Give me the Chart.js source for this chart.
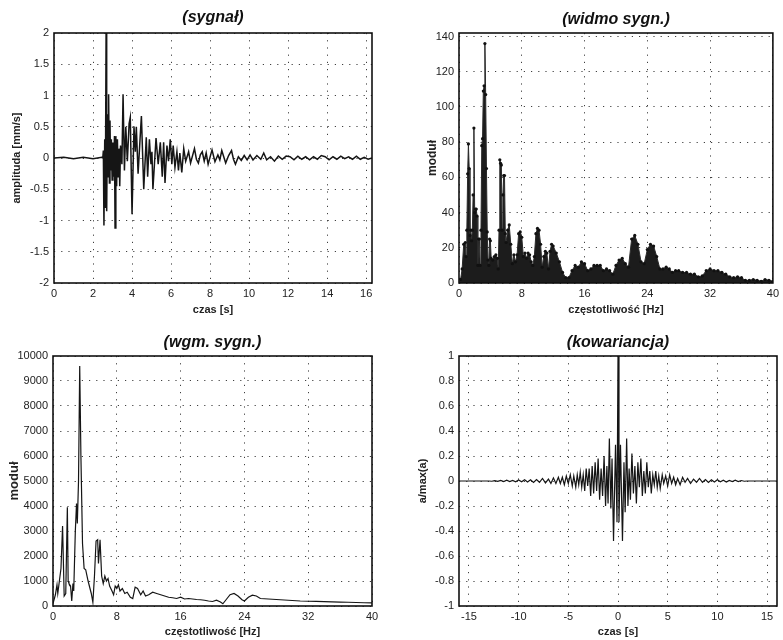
<!DOCTYPE html>
<html>
<head>
<meta charset="utf-8">
<script src="https://cdn.jsdelivr.net/npm/chart.js@4.4.1/dist/chart.umd.min.js"></script>
<style>
  body { margin: 0; background: #fff; }
  #wrap { position: relative; width: 783px; height: 640px; }
  canvas { position: absolute; }
</style>
</head>
<body>
<div id="wrap">
  <canvas id="c1" width="391" height="320" style="left:0;top:0"></canvas>
  <canvas id="c2" width="392" height="320" style="left:391px;top:0"></canvas>
  <canvas id="c3" width="391" height="320" style="left:0;top:320px"></canvas>
  <canvas id="c4" width="392" height="320" style="left:391px;top:320px"></canvas>
</div>
<script>
// (sygnał) - time signal
const sigTime = [0, 0.5, 1.0, 1.5, 2.0, 2.45, 2.5, 2.53, 2.56, 2.6,
  2.63, 2.67, 2.7, 2.74, 2.77, 2.8, 2.84, 2.87, 2.9, 2.94,
  2.98, 3.02, 3.06, 3.1, 3.13, 3.17, 3.21, 3.25, 3.29, 3.33,
  3.37, 3.41, 3.45, 3.48, 3.54, 3.61, 3.68, 3.76, 3.85, 3.91,
  4.0, 4.1, 4.17, 4.22, 4.31, 4.41, 4.48, 4.6, 4.73, 4.8,
  4.89, 4.97, 5.02, 5.07, 5.23, 5.34, 5.45, 5.55, 5.62, 5.69,
  5.79, 5.87, 5.96, 6.04, 6.11, 6.2, 6.3, 6.38, 6.45, 6.55,
  6.65, 6.75, 6.9, 7.0, 7.2, 7.3, 7.4, 7.5, 7.6, 7.7,
  7.8, 7.9, 8.1, 8.25, 8.4, 8.5, 8.6, 8.8, 8.95, 9.1,
  9.2, 9.3, 9.45, 9.6, 9.75, 9.9, 10.05, 10.2, 10.4, 10.6,
  10.75, 10.9, 11.1, 11.3, 11.5, 11.7, 11.9, 12.1, 12.3, 12.5,
  12.7, 12.9, 13.1, 13.3, 13.5, 13.7, 13.9, 14.1, 14.3, 14.5,
  14.7, 14.9, 15.1, 15.3, 15.5, 15.7, 15.9, 16.1, 16.3];
const sigAmp = [0, 0.01, -0.01, 0.01, -0.01, 0.01, 0, 0.12, -1.08, 0.3,
  -0.8, 2.0, -0.85, 0.7, -0.3, 1.02, -0.4, 0.6, -0.2, 0.3,
  -0.35, 0.25, -0.3, 0.35, -1.12, 0.35, -0.45, 0.3, -0.3, 0.15,
  -0.45, 0.2, 0.05, -0.1, 1.02, -0.2, 0.5, -0.05, 0.55, 0.65,
  -0.9, 0.5, 0.1, 0.5, -0.25, 0.3, 0.67, -0.5, 0.33, -0.3,
  0.3, -0.1, 0.1, -0.5, 0.32, -0.1, 0.25, -0.3, 0.25, -0.4,
  0.2, -0.05, 0.3, -0.1, 0.2, -0.15, 0.1, -0.2, 0.08, -0.23,
  0.15, -0.05, 0.1, -0.08, 0.15, -0.02, -0.08, 0.05, 0.1, -0.05,
  0.08, -0.1, 0.13, -0.06, 0.05, -0.03, 0.12, -0.08, 0.04, 0.12,
  -0.02, -0.1, 0.02, -0.04, 0.04, -0.03, 0.05, -0.03, 0.04, -0.02,
  0.08, -0.03, 0.02, -0.05, 0.03, -0.02, 0.03, 0.02, -0.03, 0.03,
  -0.02, 0.02, -0.03, 0.02, -0.02, 0.04, 0.02, -0.03, 0.02, -0.02,
  0.03, -0.01, 0.02, -0.02, 0.03, -0.02, 0.01, -0.02, 0];
const sigXTicks = [0, 2, 4, 6, 8, 10, 12, 14, 16];
const sigYTicks = [-2, -1.5, -1, -0.5, 0, 0.5, 1, 1.5, 2];

// (widmo sygn.) - amplitude spectrum
const specFreq = [0, 0.2, 0.4, 0.6, 0.8, 0.9, 1.0, 1.1, 1.2, 1.3, 1.4, 1.5, 1.6, 1.7, 1.8, 1.9, 2.0, 2.1, 2.2, 2.3,
  2.4, 2.5, 2.6, 2.7, 2.8, 2.9, 3.0, 3.1, 3.2, 3.3, 3.4, 3.5, 3.6, 3.7, 3.8, 3.9, 4.0, 4.1, 4.3, 4.5,
  4.7, 4.9, 5.0, 5.1, 5.2, 5.3, 5.4, 5.5, 5.6, 5.7, 5.8, 5.9, 6.0, 6.2, 6.4, 6.6, 6.8, 7.0, 7.2, 7.4,
  7.6, 7.8, 8.0, 8.2, 8.4, 8.6, 8.8, 9.0, 9.2, 9.4, 9.6, 9.8, 10.0, 10.2, 10.4, 10.6, 10.8, 11.0, 11.2, 11.4,
  11.6, 11.8, 12.0, 12.4, 12.8, 13.2, 13.6, 14.0, 14.4, 14.8, 15.2, 15.6, 16.0, 16.4, 16.8, 17.2, 17.6, 18.0, 18.4, 18.8,
  19.2, 19.6, 20.0, 20.4, 20.8, 21.2, 21.6, 22.0, 22.4, 22.8, 23.2, 23.6, 24.0, 24.4, 24.8, 25.2, 25.6, 26.0, 26.4, 26.8,
  27.2, 27.6, 28.0, 28.5, 29.0, 29.5, 30.0, 30.5, 31.0, 31.5, 32.0, 32.5, 33.0, 33.5, 34.0, 34.5, 35.0, 35.5, 36.0, 36.5,
  37.0, 37.5, 38.0, 38.5, 39.0, 39.5, 40.0];
const specMod = [0, 2, 8, 22, 23, 15, 30, 62, 79, 65, 27, 30, 24, 30, 50, 88, 40, 42, 42, 38,
  10, 25, 25, 10, 30, 78, 82, 109, 112, 136, 107, 65, 29, 13, 10, 25, 24, 14, 13, 15,
  16, 14, 8, 30, 70, 68, 67, 30, 50, 61, 61, 28, 23, 30, 33, 22, 11, 16, 12, 16,
  28, 29, 26, 15, 17, 14, 17, 16, 12, 10, 15, 28, 31, 30, 22, 9, 15, 18, 17, 8,
  18, 22, 21, 17, 12, 6, 3, 3, 7, 10, 9, 12, 11, 7, 8, 10, 10, 10, 7, 8,
  7, 5, 10, 13, 14, 11, 9, 25, 27, 22, 12, 11, 19, 22, 21, 15, 8, 8, 9, 8,
  6, 7, 7, 6, 6, 5, 5, 3.5, 4, 7, 8, 7, 7, 6, 5, 3.5, 3, 3.5, 3, 1.5,
  1.5, 2, 1.5, 1, 2, 1.5, 1];
const specXTicks = [0, 8, 16, 24, 32, 40];
const specYTicks = [0, 20, 40, 60, 80, 100, 120, 140];

// (wgm. sygn.) - smoothed spectrum
const wgmFreq = [0, 0.3, 0.5, 0.6, 0.8, 1.0, 1.2, 1.4, 1.6, 1.8, 1.9, 2.0, 2.2, 2.35, 2.5, 2.6, 2.8, 2.95, 3.05, 3.2,
  3.35, 3.5, 3.7, 3.9, 4.1, 4.4, 4.8, 5.0, 5.2, 5.4, 5.6, 5.7, 5.9, 6.1, 6.3, 6.5, 6.7, 6.9, 7.1, 7.4,
  7.6, 7.8, 8.0, 8.2, 8.4, 8.7, 9.0, 9.3, 9.7, 10.0, 10.3, 10.6, 11.0, 11.3, 11.6, 12.0, 12.5, 13.0, 13.5, 14.0,
  14.5, 15.0, 15.5, 16.0, 16.5, 17.0, 17.5, 18.0, 18.5, 19.0, 19.5, 20.0, 20.5, 21.0, 21.3, 21.7, 22.2, 22.7, 23.2, 23.7,
  24.0, 24.5, 25.0, 25.5, 26.0, 27.0, 28.0, 29.0, 30.0, 31.0, 32.0, 33.0, 34.0, 35.0, 36.0, 37.0, 38.0, 39.0, 40.0];
const wgmMod = [100, 450, 850, 500, 1000, 1500, 3200, 400, 500, 3950, 1000, 900, 800, 200, 900, 600, 3000, 4100, 3300, 5000,
  9600, 6000, 2500, 1500, 1450, 1000, 500, 150, 1200, 2600, 2650, 1700, 2650, 1200, 900, 1200, 1000, 1100, 800, 600,
  450, 800, 700, 850, 600, 700, 500, 550, 350, 300, 750, 700, 450, 600, 400, 450, 550, 500, 450, 400,
  350, 330, 300, 350, 280, 300, 280, 260, 250, 230, 200, 180, 230, 160, 90, 250, 450, 500, 400, 250,
  200, 350, 430, 400, 300, 280, 260, 240, 220, 200, 190, 185, 175, 165, 155, 150, 140, 130, 125];
const wgmXTicks = [0, 8, 16, 24, 32, 40];
const wgmYTicks = [0, 1000, 2000, 3000, 4000, 5000, 6000, 7000, 8000, 9000, 10000];

// (kowariancja) - normalised autocovariance
const covLag = [-16, -13.0, -12.7, -12.4, -12.1, -11.8, -11.5, -11.2, -10.9, -10.6,
  -10.3, -10.0, -9.7, -9.4, -9.1, -8.8, -8.5, -8.2, -7.9, -7.6,
  -7.3, -7.0, -6.75, -6.5, -6.25, -6.0, -5.8, -5.6, -5.4, -5.2,
  -5.0, -4.8, -4.6, -4.45, -4.25, -4.1, -3.95, -3.8, -3.65, -3.5,
  -3.35, -3.2, -3.05, -2.9, -2.75, -2.6, -2.45, -2.3, -2.15, -2.0,
  -1.85, -1.7, -1.55, -1.4, -1.25, -1.12, -1.0, -0.87, -0.72, -0.6,
  -0.45, -0.25, -0.1, 0, 0.1, 0.25, 0.45, 0.6, 0.72, 0.87,
  1.0, 1.12, 1.25, 1.4, 1.55, 1.7, 1.85, 2.0, 2.15, 2.3,
  2.45, 2.6, 2.75, 2.9, 3.05, 3.2, 3.35, 3.5, 3.65, 3.8,
  3.95, 4.1, 4.25, 4.45, 4.6, 4.8, 5.0, 5.2, 5.4, 5.6,
  5.8, 6.0, 6.25, 6.5, 6.75, 7.0, 7.3, 7.6, 7.9, 8.2,
  8.5, 8.8, 9.1, 9.4, 9.7, 10.0, 10.3, 10.6, 10.9, 11.2,
  11.5, 11.8, 12.1, 12.4, 12.7, 13.0, 16];
const covVal = [0, 0, -0.002, 0.003, -0.003, 0.004, -0.004, 0.006, -0.004, 0.005,
  -0.006, 0.008, -0.006, 0.01, -0.008, 0.01, -0.012, 0.012, -0.01, 0.02,
  -0.015, 0.015, -0.02, 0.025, -0.02, 0.03, -0.02, 0.03, -0.03, 0.04,
  -0.02, 0.05, -0.04, 0.04, -0.05, 0.05, -0.03, 0.07, -0.05, 0.05,
  -0.08, 0.1, -0.04, 0.1, -0.12, 0.12, -0.1, 0.15, -0.08, 0.18,
  -0.15, 0.1, -0.12, 0.2, -0.2, 0.12, -0.18, 0.34, -0.22, 0.18,
  -0.48, 0.29, -0.33, 1.0, -0.33, 0.29, -0.48, 0.15, -0.25, 0.34,
  -0.2, 0.1, -0.15, 0.22, -0.1, 0.12, -0.18, 0.15, -0.05, 0.18,
  -0.12, 0.08, -0.1, 0.15, -0.05, 0.08, -0.1, 0.05, -0.03, 0.08,
  -0.05, 0.04, -0.06, 0.05, -0.02, 0.04, -0.04, 0.05, -0.02, 0.03,
  -0.03, 0.02, -0.03, 0.03, -0.01, 0.02, -0.02, 0.015, -0.01, 0.02,
  -0.01, 0.012, -0.012, 0.01, -0.008, 0.01, -0.006, 0.006, -0.008, 0.005,
  -0.004, 0.006, -0.004, 0.004, -0.002, 0, 0];
const covXTicks = [-15, -10, -5, 0, 5, 10, 15];
const covYTicks = [-1, -0.8, -0.6, -0.4, -0.2, 0, 0.2, 0.4, 0.6, 0.8, 1];

const FONT = '"Liberation Sans", Arial, Helvetica, sans-serif';
Chart.defaults.font.family = FONT;
Chart.defaults.color = '#222';

// Title drawn centred over the plot area
const panelTitle = {
    id: 'panelTitle',
    afterDraw(chart, args, opts) {
        const { ctx, chartArea } = chart;
        ctx.save();
        ctx.font = 'italic bold 16px ' + FONT;
        ctx.fillStyle = '#111';
        ctx.textAlign = 'center';
        ctx.textBaseline = 'middle';
        ctx.fillText(opts.text, (chartArea.left + chartArea.right) / 2, opts.y);
        ctx.restore();
    }
};

// Black box round the plot area
const frameBox = {
    id: 'frameBox',
    afterDatasetsDraw(chart) {
        const { ctx, chartArea: a } = chart;
        ctx.save();
        ctx.strokeStyle = '#111';
        ctx.lineWidth = 1.6;
        ctx.strokeRect(a.left, a.top, a.right - a.left, a.bottom - a.top);
        ctx.restore();
    }
};

function pairs(xs, ys) {
    return xs.map((x, i) => ({ x: x, y: ys[i] }));
}

function makePanel(id, p) {
    const grid = { color: 'rgba(0,0,0,0.75)', lineWidth: 1, drawTicks: false };
    const border = { display: false, dash: [1.2, 6] };
    return new Chart(document.getElementById(id), {
        type: 'line',
        data: { datasets: [p.dataset] },
        options: {
            responsive: false,
            animation: false,
            layout: { padding: { left: 0, right: p.padRight, top: p.padTop, bottom: 0 } },
            plugins: {
                legend: { display: false },
                tooltip: { enabled: false },
                panelTitle: { text: p.title, y: p.titleY }
            },
            scales: {
                x: {
                    type: 'linear', min: p.xMin, max: p.xMax,
                    grid: grid, border: border,
                    afterBuildTicks: s => { s.ticks = p.xTicks.map(v => ({ value: v })); },
                    afterFit: s => { s.height = p.xHeight; },
                    ticks: { font: { size: 11 }, padding: 4, maxRotation: 0, autoSkip: false, callback: v => String(v) },
                    title: { display: true, text: p.xTitle, font: { size: 11, weight: 'bold' }, padding: { top: 0, bottom: p.xTitlePad } }
                },
                y: {
                    type: 'linear', min: p.yMin, max: p.yMax,
                    grid: grid, border: border,
                    afterBuildTicks: s => { s.ticks = p.yTicks.map(v => ({ value: v })); },
                    afterFit: s => { s.width = p.yWidth; },
                    ticks: { font: { size: 11 }, padding: 5, autoSkip: false, callback: v => String(v) },
                    title: { display: true, text: p.yTitle, font: { size: p.yTitleSize, weight: 'bold' }, padding: { top: p.yTitlePad, bottom: 0 } }
                }
            }
        },
        plugins: [panelTitle, frameBox]
    });
}

function lineSet(xs, ys, width) {
    return {
        data: pairs(xs, ys),
        borderColor: '#151515', borderWidth: width,
        pointRadius: 0, tension: 0, fill: false
    };
}

makePanel('c1', {
    title: '(sygnał)', titleY: 18, padTop: 33, padRight: 19,
    xMin: 0, xMax: 16.3, xTicks: sigXTicks, xHeight: 37, xTitle: 'czas [s]', xTitlePad: 3.4,
    yMin: -2, yMax: 2, yTicks: sigYTicks, yWidth: 54, yTitle: 'amplituda [mm/s]', yTitleSize: 11, yTitlePad: 10,
    dataset: lineSet(sigTime, sigAmp, 1.5)
});

makePanel('c2', {
    title: '(widmo sygn.)', titleY: 20, padTop: 33, padRight: 6,
    xMin: 0, xMax: 40, xTicks: specXTicks, xHeight: 37, xTitle: 'częstotliwość [Hz]', xTitlePad: 3.4,
    yMin: 0, yMax: 142, yTicks: specYTicks, yWidth: 68, yTitle: 'moduł', yTitleSize: 12, yTitlePad: 34,
    dataset: {
        data: pairs(specFreq, specMod),
        borderColor: '#2a2a2a', borderWidth: 1,
        backgroundColor: '#1c1c1c', fill: 'origin',
        pointRadius: 1.6, pointBorderWidth: 0, pointBackgroundColor: '#111',
        tension: 0
    }
});

makePanel('c3', {
    title: '(wgm. sygn.)', titleY: 23, padTop: 36, padRight: 19,
    xMin: 0, xMax: 40, xTicks: wgmXTicks, xHeight: 34, xTitle: 'częstotliwość [Hz]', xTitlePad: 1.4,
    yMin: 0, yMax: 10000, yTicks: wgmYTicks, yWidth: 53, yTitle: 'moduł', yTitleSize: 13, yTitlePad: 7,
    dataset: lineSet(wgmFreq, wgmMod, 1.2)
});

makePanel('c4', {
    title: '(kowariancja)', titleY: 23, padTop: 36, padRight: 6,
    xMin: -16, xMax: 16, xTicks: covXTicks, xHeight: 34, xTitle: 'czas [s]', xTitlePad: 1.4,
    yMin: -1, yMax: 1, yTicks: covYTicks, yWidth: 68, yTitle: 'a/max(a)', yTitleSize: 11, yTitlePad: 25,
    dataset: lineSet(covLag, covVal, 1.2)
});
</script>
</body>
</html>
